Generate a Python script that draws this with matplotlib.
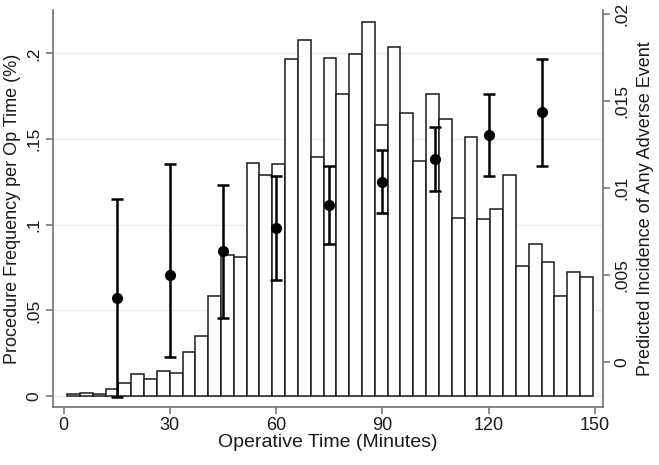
import numpy as np
import matplotlib
matplotlib.use("Agg")
import matplotlib.pyplot as plt

plt.rcParams['font.family'] = ['Liberation Sans', 'DejaVu Sans']

# histogram of operative time (share of procedures per bin)
bin_start = 1.0
bin_width = 3.62
freq = [0.001, 0.002, 0.001, 0.004, 0.0076, 0.0127, 0.0099, 0.0148, 0.0136, 0.0259,
        0.035, 0.0583, 0.0823, 0.0809, 0.1363, 0.1293, 0.1357, 0.197, 0.2077, 0.1396,
        0.1974, 0.1762, 0.1995, 0.2184, 0.1585, 0.2038, 0.165, 0.1373, 0.1762, 0.1618,
        0.1037, 0.1513, 0.1031, 0.1091, 0.1288, 0.0762, 0.0889, 0.0784, 0.0585, 0.0725,
        0.0694]

# predicted incidence of any adverse event with 95% CI
op_time = [15, 30, 45, 60, 75, 90, 105, 120, 135]
pred = [0.00364, 0.0050, 0.00635, 0.00766, 0.00903, 0.01032, 0.01165, 0.0130, 0.01432]
ci_lo = [-0.0020, 0.00029, 0.00249, 0.00469, 0.00674, 0.00855, 0.00982, 0.01068, 0.01127]
ci_hi = [0.00934, 0.01135, 0.01018, 0.01066, 0.01125, 0.01215, 0.01349, 0.01535, 0.01739]

left_ticks = [0, 0.05, 0.1, 0.15, 0.2]
left_labels = ['0', '.05', '.1', '.15', '.2']
right_ticks = [0, 0.005, 0.01, 0.015, 0.02]
right_labels = ['0', '.005', '.01', '.015', '.02']
x_ticks = [0, 30, 60, 90, 120, 150]

spine_col = '#6e6e6e'
txt_col = '#1a1a1a'

fig = plt.figure(figsize=(6.59, 4.65), dpi=100)
ax = fig.add_axes([0.0804, 0.1247, 0.8346, 0.8533])

edges = bin_start + bin_width * np.arange(len(freq))
ax.bar(edges, freq, width=bin_width, align='edge', color='white',
       edgecolor='#1a1a1a', linewidth=1.1, zorder=2)

ax.set_xlim(-3, 152.3)
ax.set_ylim(-0.0064, 0.2252)
ax.set_yticks(left_ticks)
ax.set_yticklabels(left_labels)
ax.set_xticks(x_ticks)
ax.grid(axis='y', color='#ebebeb', linewidth=1.0, zorder=0)
ax.set_axisbelow(True)

ax.tick_params(axis='y', labelrotation=90, length=5, width=1.1, color=spine_col,
               labelsize=12.5, labelcolor=txt_col, pad=3)
ax.tick_params(axis='x', length=5, width=1.1, color=spine_col,
               labelsize=13, labelcolor=txt_col, pad=2)
for lab in ax.get_yticklabels():
    lab.set_va('center')

ax.spines['top'].set_visible(False)
ax.spines['right'].set_visible(False)
for s in ['left', 'bottom']:
    ax.spines[s].set_color(spine_col)
    ax.spines[s].set_linewidth(1.2)

ax.set_xlabel('Operative Time (Minutes)', fontsize=14, color=txt_col, labelpad=0)
ax.set_ylabel('Procedure Frequency per Op Time (%)', fontsize=13, color=txt_col, labelpad=4)

ax2 = ax.twinx()
pred_a = np.array(pred)
yerr = [pred_a - np.array(ci_lo), np.array(ci_hi) - pred_a]
ax2.errorbar(op_time, pred, yerr=yerr, fmt='o', color='black', markersize=7,
             elinewidth=1.8, capsize=4, capthick=1.8, zorder=3)
ax2.set_ylim(-0.0026, 0.02019)
ax2.set_yticks(right_ticks)
ax2.set_yticklabels(right_labels)
ax2.tick_params(axis='y', labelrotation=90, length=5, width=1.1, color=spine_col,
                labelsize=12.5, labelcolor=txt_col, pad=3)
for lab in ax2.get_yticklabels():
    lab.set_va('center')
for s in ['top', 'left', 'bottom']:
    ax2.spines[s].set_visible(False)
ax2.spines['right'].set_color(spine_col)
ax2.spines['right'].set_linewidth(1.2)
ax2.set_ylabel('Predicted Incidence of Any Adverse Event', fontsize=13,
               color=txt_col, labelpad=6)

fig.savefig('out.png', dpi=100)
